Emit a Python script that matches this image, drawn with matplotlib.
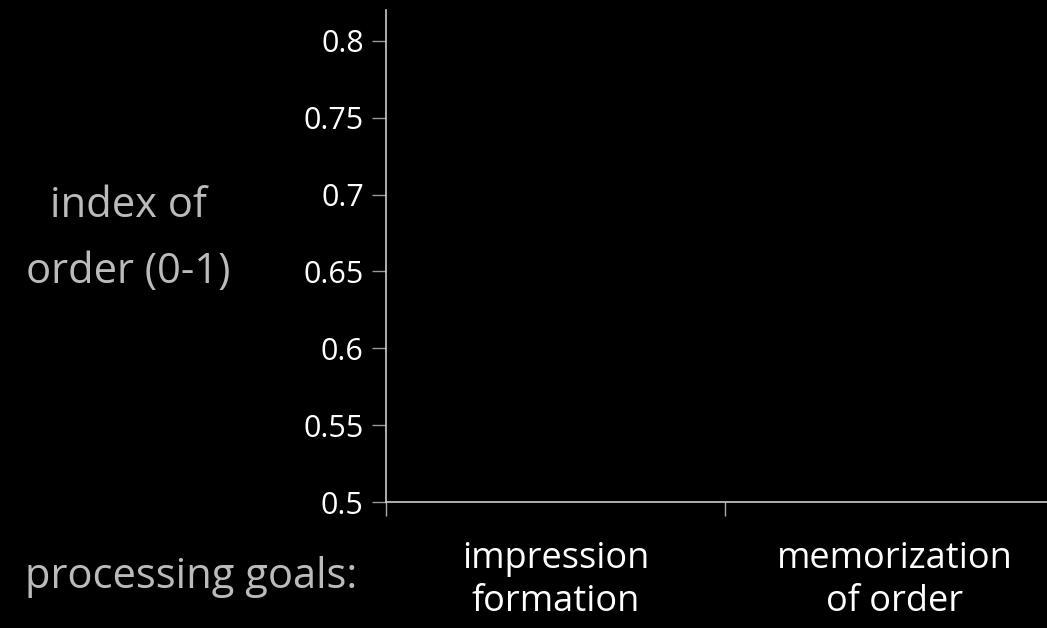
import matplotlib
matplotlib.use('Agg')
import matplotlib.pyplot as plt

# chart content
categories = ['impression\nformation', 'memorization\nof order']
y_ticks = [0.5, 0.55, 0.6, 0.65, 0.7, 0.75, 0.8]
y_tick_labels = ['0.5', '0.55', '0.6', '0.65', '0.7', '0.75', '0.8']
y_label = 'index of\norder (0-1)'
x_label = 'processing goals:'

plt.rcParams['font.family'] = ['Open Sans', 'DejaVu Sans']

fig = plt.figure(figsize=(10.47, 6.28), dpi=100, facecolor='black')
ax = fig.add_axes([0.3687, 0.2006, 0.6313, 0.7834], facecolor='black')

# category boundaries as major ticks, labels sit in the middle
ax.set_xlim(-0.5, 1.45)
ax.set_xticks([i - 0.5 for i in range(len(categories))])
ax.set_xticklabels([])
ax.set_xticks(range(len(categories)), minor=True)
ax.set_xticklabels(categories, minor=True, color='white', fontsize=26,
                   linespacing=1.27)
ax.tick_params(axis='x', which='minor', length=0, pad=28)
ax.tick_params(axis='x', which='major', length=10, width=1, color='#aaaaaa')

ax.set_ylim(0.5, 0.82)
ax.set_yticks(y_ticks)
ax.set_yticklabels(y_tick_labels, color='white', fontsize=22)
ax.tick_params(axis='y', length=10, width=1, color='#999999', pad=6)

for side in ['top', 'right']:
    ax.spines[side].set_visible(False)
for side in ['left', 'bottom']:
    ax.spines[side].set_color('#cccccc')
    ax.spines[side].set_linewidth(1.2)

fig.text(128 / 1047, 1 - 239 / 628, y_label, color='#bbbbbb', fontsize=30,
         ha='center', va='center', linespacing=1.77)
fig.text(191 / 1047, 1 - 577 / 628, x_label, color='#bbbbbb', fontsize=30,
         ha='center', va='center')

fig.savefig('out.png', dpi=100, facecolor='black')
